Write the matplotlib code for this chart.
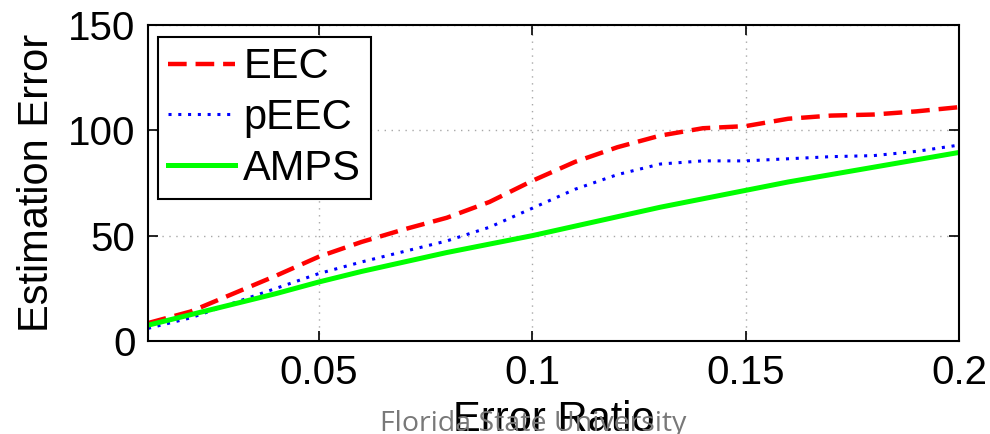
import numpy as np
import matplotlib.pyplot as plt

# Data
error_ratio = [0.01, 0.02, 0.03, 0.04, 0.05, 0.06, 0.07, 0.08, 0.09, 0.10,
               0.11, 0.12, 0.13, 0.14, 0.15, 0.16, 0.17, 0.18, 0.19, 0.20]
eec = [8.5, 14, 22.5, 31, 40, 47, 53, 58.5, 66, 76,
       85, 92, 97.5, 101, 102, 105.5, 107, 107.5, 109, 111]
peec = [6, 11, 18, 25, 32, 37.5, 42.5, 47.5, 54, 63,
        72, 79, 84, 85.5, 85.5, 86.5, 87.5, 88, 90, 93]
amps = [7.5, 12.5, 17.5, 22.5, 28, 33, 37.5, 42, 46, 50,
        54.5, 59, 63.5, 67.5, 71.5, 75.5, 79, 82.5, 86, 89.5]

plt.rcParams['font.family'] = ['Liberation Sans', 'DejaVu Sans']

fig = plt.figure(figsize=(9.9, 4.34), dpi=100)
ax = fig.add_axes([148 / 990, (434 - 341) / 434, (959 - 148) / 990, (341 - 25) / 434])

ax.plot(error_ratio, eec, color='#ff0000', lw=3.2, linestyle=(0, (4.2, 2)), label='EEC')
ax.plot(error_ratio, peec, color='#0000ff', lw=2.2, linestyle=(0, (1, 2.2)), label='pEEC')
ax.plot(error_ratio, amps, color='#00ff00', lw=3.6, linestyle='-', label='AMPS')

ax.set_xlim(0.01, 0.2)
ax.set_ylim(0, 150)
ax.set_xticks([0.05, 0.1, 0.15, 0.2])
ax.set_xticklabels(['0.05', '0.1', '0.15', '0.2'])
ax.set_yticks([0, 50, 100, 150])

ax.grid(True, color='#a8a8a8', linestyle=(0, (1, 4)), lw=1)
ax.tick_params(direction='in', length=7, width=1.2, top=True, right=True,
               labelsize=29, pad=9)
for s in ax.spines.values():
    s.set_linewidth(1.5)

ax.set_xlabel('Error Ratio', fontsize=30, labelpad=6)
ax.set_ylabel('Estimation Error', fontsize=30, labelpad=8)

leg = ax.legend(loc='upper left', bbox_to_anchor=(0.012, 0.963), borderaxespad=0,
                fontsize=30, handlelength=1.6, handletextpad=0.2, labelspacing=0.26,
                borderpad=0.25, fancybox=False, framealpha=1, edgecolor='black')
leg.get_frame().set_linewidth(1.5)

fig.text(533 / 990, 0.008, 'Florida State University', fontsize=20.5, color='#787878',
         family=['Open Sans', 'DejaVu Sans'], ha='center', va='baseline', zorder=10)

fig.savefig('out.png', dpi=100)
